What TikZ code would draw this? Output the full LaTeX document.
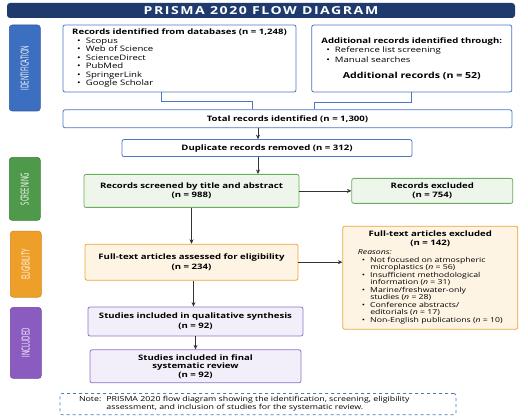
\documentclass[tikz,border=0pt]{standalone}
\usepackage{fontspec}
\setmainfont{Open Sans}[FakeStretch=1.28]
\newfontfamily\phfont{Open Sans}[FakeStretch=0.54]
\usetikzlibrary{arrows.meta,positioning}
\definecolor{navy}{HTML}{1F3B6E}
\definecolor{idline}{HTML}{4A76C2}
\definecolor{idfill}{HTML}{3D6FC0}
\definecolor{iddark}{HTML}{2F5AA0}
\definecolor{scrline}{HTML}{6AAF5C}
\definecolor{scrfill}{HTML}{EEF6EC}
\definecolor{scrlab}{HTML}{4E9A4A}
\definecolor{scrdark}{HTML}{3D7F3A}
\definecolor{eliline}{HTML}{F0A43A}
\definecolor{elifill}{HTML}{FDF4E4}
\definecolor{elilab}{HTML}{EE9F2A}
\definecolor{elidark}{HTML}{D4881C}
\definecolor{incline}{HTML}{9370C8}
\definecolor{incfill}{HTML}{F3EFFA}
\definecolor{inclab}{HTML}{8B5CBF}
\definecolor{incdark}{HTML}{6E45A0}
\definecolor{arrcol}{HTML}{333333}
\tikzset{
  blk/.style={draw,rectangle,rounded corners=2pt,line width=0.8pt,align=center,inner sep=3pt,font=\fontsize{7.5}{8.5}\selectfont\bfseries},
  idblk/.style={blk,fill=white,draw=idline},
  scrblk/.style={blk,fill=scrfill,draw=scrline},
  eliblk/.style={blk,fill=elifill,draw=eliline},
  incblk/.style={blk,fill=incfill,draw=incline},
  phase/.style={rectangle,rounded corners=3pt,line width=0.6pt,minimum width=31pt,text=white,inner sep=0pt,font=\fontsize{11}{12}\phfont},
  ttlbar/.style={rectangle,rounded corners=3pt,fill=navy,text=white,minimum width=508pt,minimum height=15pt,inner sep=0pt,font=\fontsize{11}{12}\selectfont\bfseries\addfontfeatures{LetterSpace=14}},
  notebox/.style={draw=idline,dashed,rounded corners=2pt,line width=0.7pt,inner xsep=19pt,inner ysep=3pt,text width=358pt,align=left,minimum height=21pt,font=\fontsize{6.9}{7.6}\selectfont},
  arr/.style={-{Stealth[length=4.5pt,width=4pt]},line width=0.7pt,draw=arrcol},
  joinln/.style={draw=idline,line width=0.9pt}
}
\newcommand{\bul}{\hspace*{5pt}\textbullet\hspace{5pt}}

\begin{document}
\begin{tikzpicture}[x=1pt,y=1pt]
  \useasboundingbox (0,0) rectangle (528,-417);
  \node[ttlbar] (ttl) at (261,-10.5) {PRISMA 2020 FLOW DIAGRAM};

  % identification
  \node[idblk, minimum width=233pt, minimum height=67pt, align=left] (dbs) at (179.5,-58.5)
    {Records identified from databases (n = 1,248)\\
     \mdseries\bul Scopus\\ \mdseries\bul Web of Science\\ \mdseries\bul ScienceDirect\\
     \mdseries\bul PubMed\\ \mdseries\bul SpringerLink\\ \mdseries\bul Google Scholar};
  \node[idblk, minimum width=200pt, minimum height=67pt, right=15pt of dbs] (add)
    {\begin{tabular}{@{}l@{}}
       Additional records identified through:\\[1pt]
       \mdseries\bul Reference list screening\\[1pt]
       \mdseries\bul Manual searches
     \end{tabular}\\[6pt]
     \fontsize{8.3}{9}\selectfont Additional records (n = 52)};
  \node[idblk, minimum width=449pt, minimum height=18pt, below=17pt of dbs.south west, anchor=north west] (tot)
    {Total records identified (n = 1,300)};
  \node[idblk, minimum width=290pt, minimum height=17pt, below=11pt of tot, xshift=-20.5pt] (dup)
    {Duplicate records removed (n = 312)};

  % screening
  \node[scrblk, minimum width=215pt, minimum height=33pt, below=17pt of dup.south west, anchor=north west, xshift=-38pt] (scr)
    {Records screened by title and abstract\\(n = 988)};
  \node[scrblk, minimum width=161pt, minimum height=25pt, right=52pt of scr] (exc)
    {Records excluded\\(n = 754)};

  % eligibility
  \node[eliblk, minimum width=213pt, minimum height=36pt, below=36pt of scr, font=\fontsize{7.5}{10.5}\selectfont\bfseries] (fta)
    {Full-text articles assessed for eligibility\\(n = 234)};
  \node[eliblk, minimum width=175pt, minimum height=103pt, right=44pt of fta, yshift=-15.5pt] (fte)
    {Full-text articles excluded\\(n = 142)\\[2pt]
     \fontsize{6.8}{7.5}\selectfont\mdseries
     \begin{tabular}{@{\hspace{4pt}}l@{\hspace{5pt}}l@{}}
       \multicolumn{2}{@{}l}{\textit{Reasons:}}\\
       \textbullet & Not focused on atmospheric\\
                   & microplastics (\textit{n} = 56)\\
       \textbullet & Insufficient methodological\\
                   & information (\textit{n} = 31)\\
       \textbullet & Marine/freshwater-only\\
                   & studies (\textit{n} = 28)\\
       \textbullet & Conference abstracts/\\
                   & editorials (\textit{n} = 17)\\
       \textbullet & Non-English publications (\textit{n} = 10)
     \end{tabular}};

  % included
  \node[incblk, minimum width=215pt, minimum height=29pt, below=26pt of fta, xshift=4pt, font=\fontsize{7.5}{10}\selectfont\bfseries] (qual)
    {Studies included in qualitative synthesis\\(n = 92)};
  \node[incblk, minimum width=211pt, minimum height=33pt, below=13pt of qual] (fin)
    {Studies included in final\\systematic review\\(n = 92)};

  \node[notebox, below=10pt of fin, xshift=62.5pt] (note)
    {\begin{tabular}{@{}l@{\hspace{5pt}}l@{}}
       Note: & PRISMA 2020 flow diagram showing the identification, screening, eligibility\\
             & assessment, and inclusion of studies for the systematic review.
     \end{tabular}};

  % phase labels
  \node[phase, fill=idfill, draw=iddark, minimum height=86pt, left=22pt of dbs, yshift=-9.5pt] (pid) {\rotatebox{90}{IDENTIFICATION}};
  \node[phase, fill=scrlab, draw=scrdark, minimum height=63pt, left=43pt of scr, yshift=2pt] (pscr) {\rotatebox{90}{SCREENING}};
  \node[phase, fill=elilab, draw=elidark, minimum height=66pt, left=43pt of fta, yshift=-2pt] (pel) {\rotatebox{90}{ELIGIBILITY}};
  \node[phase, fill=inclab, draw=incdark, minimum height=71pt, left=46pt of qual.south west, yshift=-6.5pt] (pinc) {\rotatebox{90}{INCLUDED}};

  % connectors
  \draw[joinln] ([xshift=-18.5pt]dbs.south) -- ++(0,-9) -| ([xshift=-35.5pt]tot.north);
  \draw[joinln] (add.south) -- ++(0,-10) -| ([xshift=26.5pt]tot.north);
  \draw[arr] ([xshift=-29.5pt]tot.south) -- ([xshift=-9pt]dup.north);
  \draw[arr] ([xshift=-9pt]dup.south) -- ([xshift=66.5pt]scr.north);
  \draw[arr] (scr.east) -- (scr.east -| exc.west);
  \draw[arr] (scr.south) -- (scr.south |- fta.north);
  \draw[arr] (fta.east) -- (fta.east -| fte.west);
  \draw[arr] ([xshift=2pt]fta.south) -- ([xshift=2pt]fta.south |- qual.north);
  \draw[arr] (qual.south) -- (qual.south |- fin.north);
\end{tikzpicture}
\end{document}
